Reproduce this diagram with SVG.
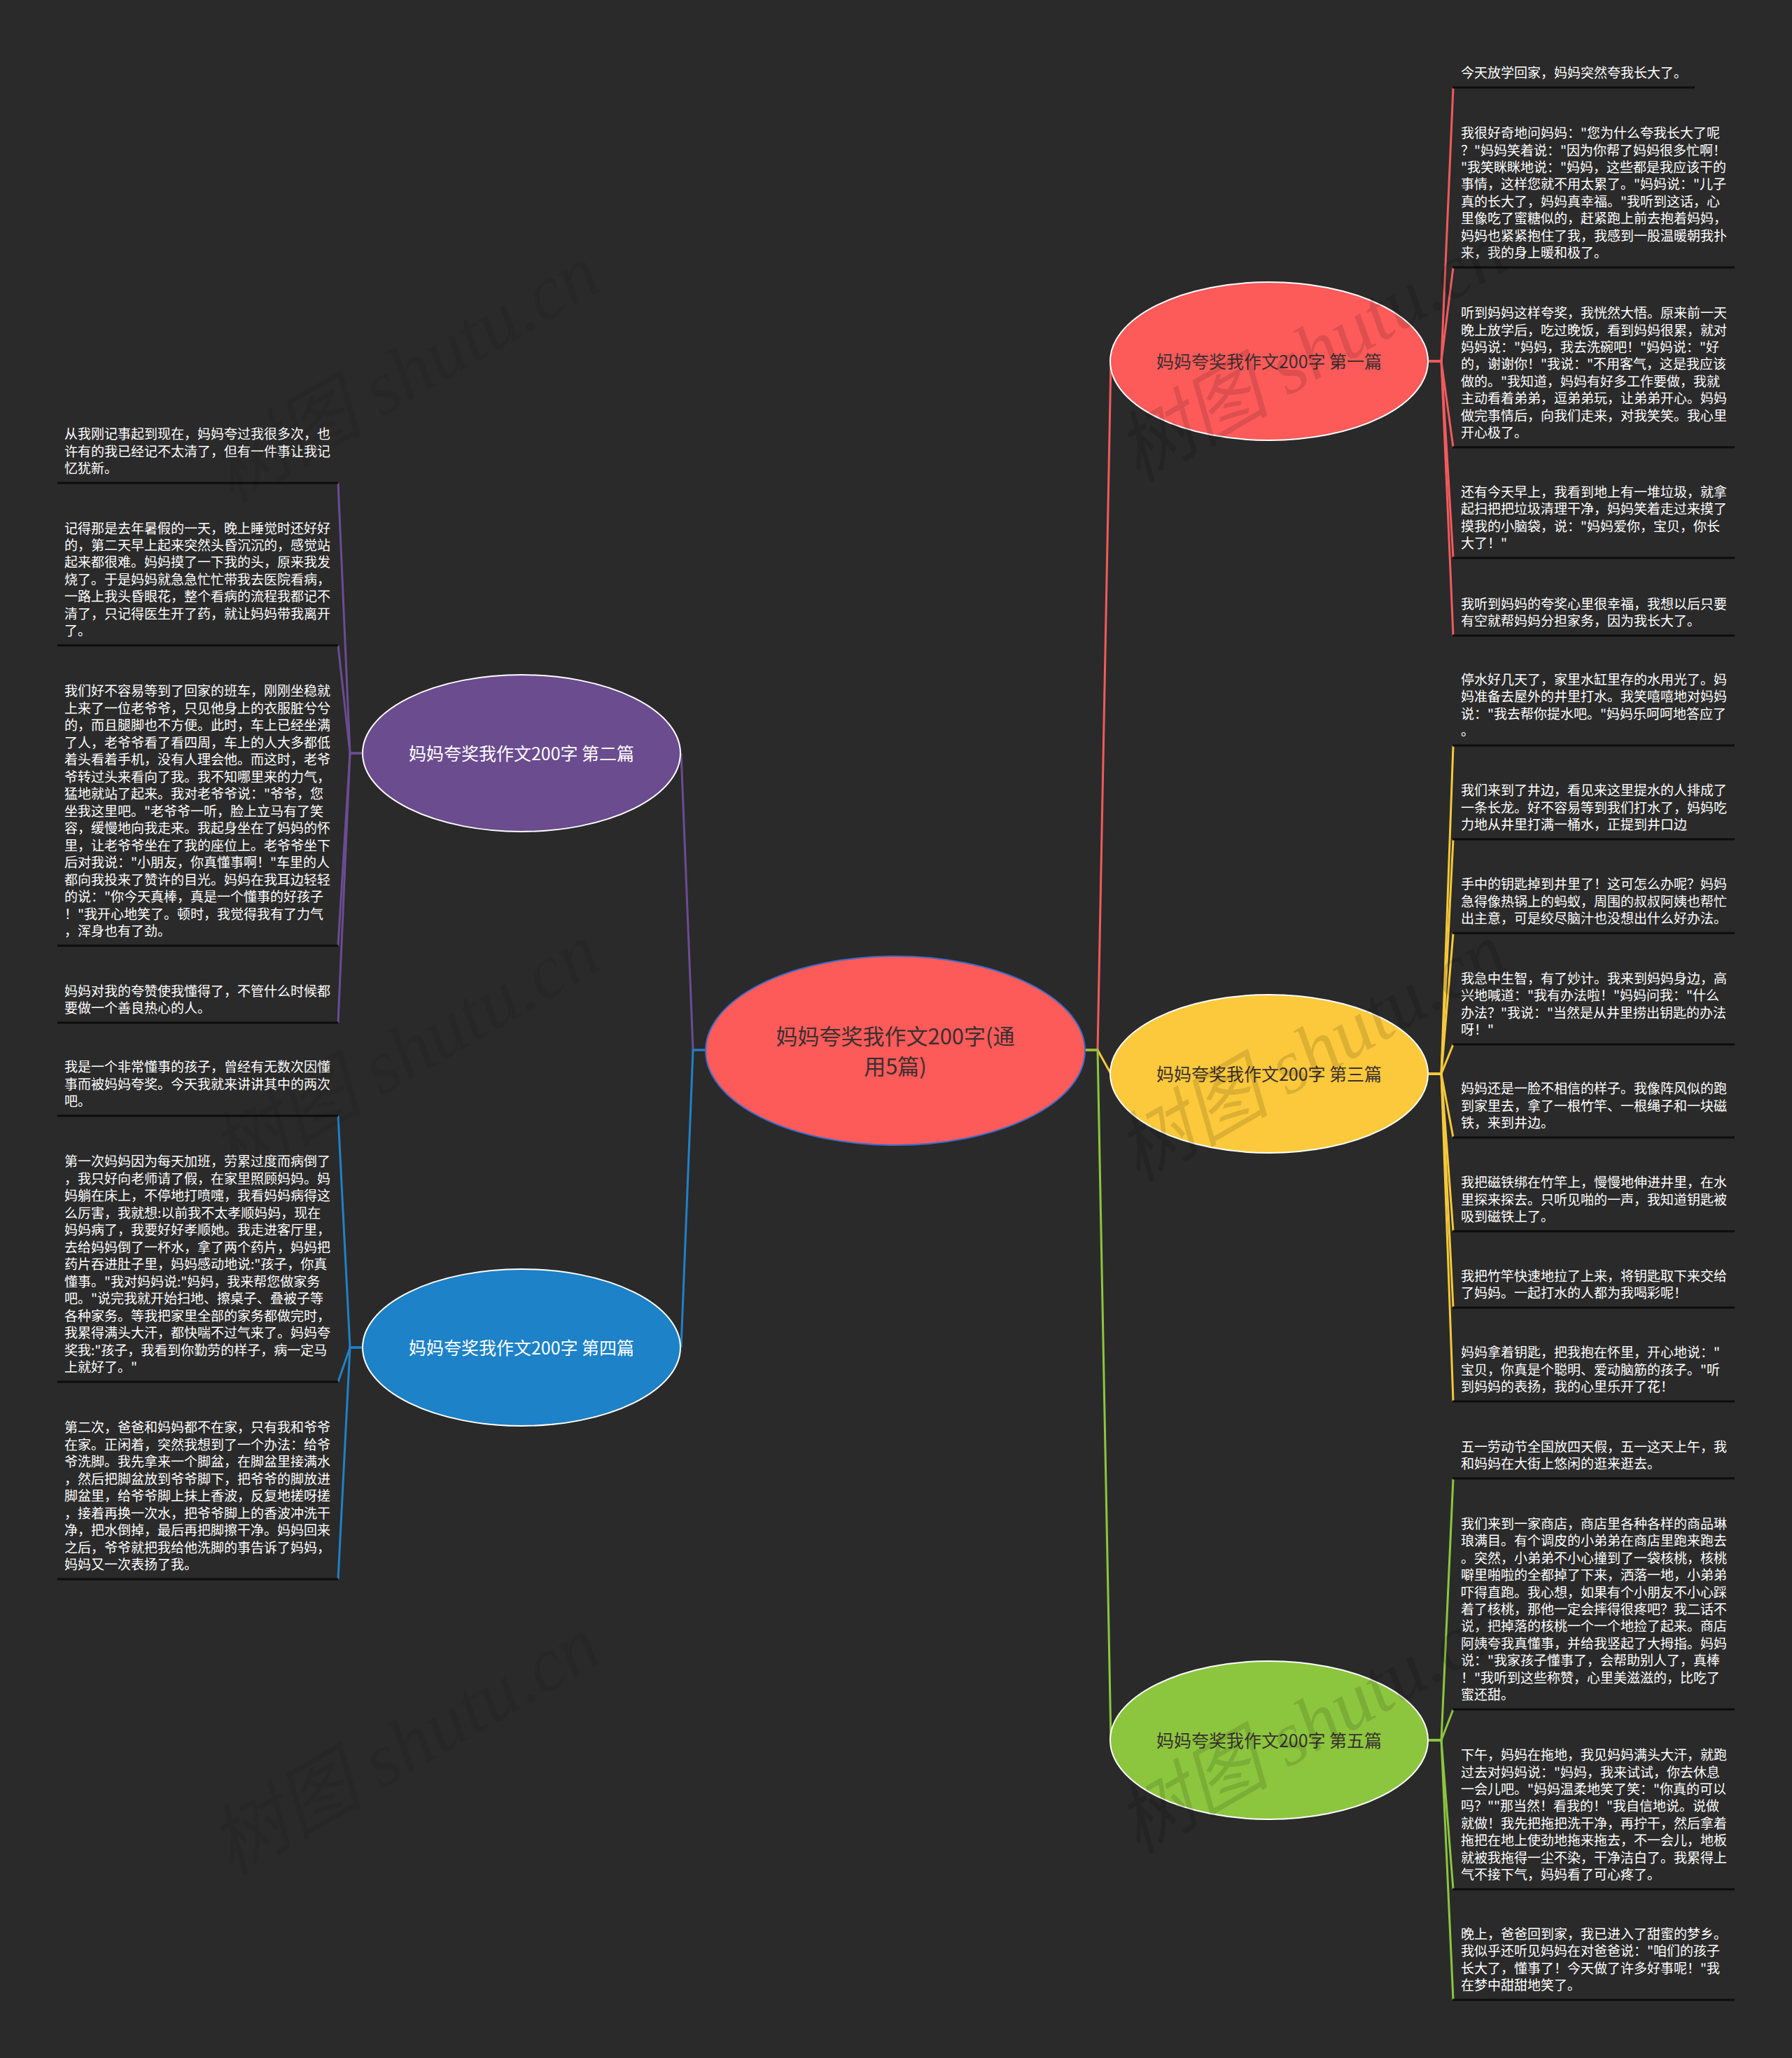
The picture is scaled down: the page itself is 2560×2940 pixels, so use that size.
<svg xmlns="http://www.w3.org/2000/svg" width="2560" height="2940" viewBox="0 0 2560 2940">
<defs>
<style>
.lt{font-family:"Noto Sans CJK SC","Noto Sans",sans-serif;font-size:19px;fill:#ffffff}
.ul{stroke:#0d0d0d;stroke-width:3}
.nt{font-family:"Noto Sans CJK SC","Noto Sans",sans-serif;font-size:25px;text-anchor:middle}
.ct{font-family:"Noto Sans CJK SC","Noto Sans",sans-serif;font-size:31px;text-anchor:middle;fill:#3a3030}
.dk{fill:#3a3030}
.wh{fill:#ffffff}
.c{fill:none;stroke-width:3}
.wm{font-family:"Liberation Serif","Noto Sans CJK SC",serif;font-style:italic;font-size:110px;fill:#000000;fill-opacity:0.12}
.wm2{fill-opacity:0.05}
</style>
</defs>
<rect x="0" y="0" width="2560" height="2940" fill="#2a2a2a"/>

<g id="connectors">
<path class="c" stroke="#f35a5c" d="M1549,1500 H1568 L1587,516"/>
<path class="c" stroke="#f6c83a" d="M1549,1500 H1568 L1587,1534"/>
<path class="c" stroke="#8cc63f" d="M1549,1500 H1568 L1587,2486"/>
<path class="c" stroke="#6b4c93" d="M1009,1500 H990 L973,1076"/>
<path class="c" stroke="#2081c8" d="M1009,1500 H990 L973,1925"/>

<g stroke="#f35a5c" class="c">
<path class="c" d="M2041,516 H2059 L2076,125"/>
<path class="c" d="M2041,516 H2059 L2076,382"/>
<path class="c" d="M2041,516 H2059 L2076,639"/>
<path class="c" d="M2041,516 H2059 L2076,797"/>
<path class="c" d="M2041,516 H2059 L2076,908"/>
</g>
<g stroke="#f6c83a" class="c">
<path class="c" d="M2041,1534 H2059 L2076,1065"/>
<path class="c" d="M2041,1534 H2059 L2076,1199"/>
<path class="c" d="M2041,1534 H2059 L2076,1333"/>
<path class="c" d="M2041,1534 H2059 L2076,1492"/>
<path class="c" d="M2041,1534 H2059 L2076,1625"/>
<path class="c" d="M2041,1534 H2059 L2076,1759"/>
<path class="c" d="M2041,1534 H2059 L2076,1868"/>
<path class="c" d="M2041,1534 H2059 L2076,2002"/>
</g>
<g stroke="#8cc63f" class="c">
<path class="c" d="M2041,2486 H2059 L2076,2112"/>
<path class="c" d="M2041,2486 H2059 L2076,2442"/>
<path class="c" d="M2041,2486 H2059 L2076,2699"/>
<path class="c" d="M2041,2486 H2059 L2076,2857"/>
</g>
<g stroke="#6b4c93" class="c">
<path class="c" d="M518,1076 H500 L483,690"/>
<path class="c" d="M518,1076 H500 L483,922"/>
<path class="c" d="M518,1076 H500 L483,1351"/>
<path class="c" d="M518,1076 H500 L483,1461"/>
</g>
<g stroke="#2081c8" class="c">
<path class="c" d="M518,1925 H500 L483,1594"/>
<path class="c" d="M518,1925 H500 L483,1974"/>
<path class="c" d="M518,1925 H500 L483,2256"/>
</g>
</g>

<g id="node-center">
<ellipse cx="1279" cy="1501" rx="271" ry="135" fill="#fd5a5a" stroke="#3a6cc8" stroke-width="2"/>
<text class="ct" x="1279" y="1492">妈妈夸奖我作文200字(通</text>
<text class="ct" x="1279" y="1535">用5篇)</text>
</g>
<g id="node-1">
<ellipse cx="1813" cy="516" rx="227" ry="113" fill="#fd5a5a" stroke="#ffffff" stroke-width="2"/>
<text class="nt dk" x="1813" y="526">妈妈夸奖我作文200字 第一篇</text>
</g>
<g id="node-2">
<ellipse cx="745" cy="1076" rx="227" ry="112" fill="#6b4c8f" stroke="#ffffff" stroke-width="2"/>
<text class="nt wh" x="745" y="1086">妈妈夸奖我作文200字 第二篇</text>
</g>
<g id="node-3">
<ellipse cx="1813" cy="1534" rx="227" ry="113" fill="#fbc93b" stroke="#ffffff" stroke-width="2"/>
<text class="nt dk" x="1813" y="1544">妈妈夸奖我作文200字 第三篇</text>
</g>
<g id="node-4">
<ellipse cx="745" cy="1925" rx="227" ry="112" fill="#1d82c8" stroke="#ffffff" stroke-width="2"/>
<text class="nt wh" x="745" y="1935">妈妈夸奖我作文200字 第四篇</text>
</g>
<g id="node-5">
<ellipse cx="1813" cy="2486" rx="227" ry="113" fill="#8cc63e" stroke="#ffffff" stroke-width="2"/>
<text class="nt dk" x="1813" y="2496">妈妈夸奖我作文200字 第五篇</text>
</g>

<g id="leaf-1-1">
<text class="lt" x="2087" y="111">今天放学回家，妈妈突然夸我长大了。</text>
<line class="ul" x1="2075" y1="125" x2="2421" y2="125"/>
</g>
<g id="leaf-1-2">
<text class="lt" y="197.2"><tspan x="2087">我很好奇地问妈妈："您为什么夸我长大了呢</tspan><tspan x="2087" dy="24.4">？"妈妈笑着说："因为你帮了妈妈很多忙啊！</tspan><tspan x="2087" dy="24.4">"我笑眯眯地说："妈妈，这些都是我应该干的</tspan><tspan x="2087" dy="24.4">事情，这样您就不用太累了。"妈妈说："儿子</tspan><tspan x="2087" dy="24.4">真的长大了，妈妈真幸福。"我听到这话，心</tspan><tspan x="2087" dy="24.4">里像吃了蜜糖似的，赶紧跑上前去抱着妈妈，</tspan><tspan x="2087" dy="24.4">妈妈也紧紧抱住了我，我感到一股温暖朝我扑</tspan><tspan x="2087" dy="24.4">来，我的身上暖和极了。</tspan></text>
<line class="ul" x1="2075" y1="382" x2="2478" y2="382"/>
</g>
<g id="leaf-1-3">
<text class="lt" y="454.2"><tspan x="2087">听到妈妈这样夸奖，我恍然大悟。原来前一天</tspan><tspan x="2087" dy="24.4">晚上放学后，吃过晚饭，看到妈妈很累，就对</tspan><tspan x="2087" dy="24.4">妈妈说："妈妈，我去洗碗吧！"妈妈说："好</tspan><tspan x="2087" dy="24.4">的，谢谢你！"我说："不用客气，这是我应该</tspan><tspan x="2087" dy="24.4">做的。"我知道，妈妈有好多工作要做，我就</tspan><tspan x="2087" dy="24.4">主动看着弟弟，逗弟弟玩，让弟弟开心。妈妈</tspan><tspan x="2087" dy="24.4">做完事情后，向我们走来，对我笑笑。我心里</tspan><tspan x="2087" dy="24.4">开心极了。</tspan></text>
<line class="ul" x1="2075" y1="639" x2="2478" y2="639"/>
</g>
<g id="leaf-1-4">
<text class="lt" y="709.8"><tspan x="2087">还有今天早上，我看到地上有一堆垃圾，就拿</tspan><tspan x="2087" dy="24.4">起扫把把垃圾清理干净，妈妈笑着走过来摸了</tspan><tspan x="2087" dy="24.4">摸我的小脑袋，说："妈妈爱你，宝贝，你长</tspan><tspan x="2087" dy="24.4">大了！"</tspan></text>
<line class="ul" x1="2075" y1="797" x2="2478" y2="797"/>
</g>
<g id="leaf-1-5">
<text class="lt" y="869.6"><tspan x="2087">我听到妈妈的夸奖心里很幸福，我想以后只要</tspan><tspan x="2087" dy="24.4">有空就帮妈妈分担家务，因为我长大了。</tspan></text>
<line class="ul" x1="2075" y1="908" x2="2478" y2="908"/>
</g>

<g id="leaf-3-1">
<text class="lt" y="977.8"><tspan x="2087">停水好几天了，家里水缸里存的水用光了。妈</tspan><tspan x="2087" dy="24.4">妈准备去屋外的井里打水。我笑嘻嘻地对妈妈</tspan><tspan x="2087" dy="24.4">说："我去帮你提水吧。"妈妈乐呵呵地答应了</tspan><tspan x="2087" dy="24.4">。</tspan></text>
<line class="ul" x1="2075" y1="1065" x2="2478" y2="1065"/>
</g>
<g id="leaf-3-2">
<text class="lt" y="1136.2"><tspan x="2087">我们来到了井边，看见来这里提水的人排成了</tspan><tspan x="2087" dy="24.4">一条长龙。好不容易等到我们打水了，妈妈吃</tspan><tspan x="2087" dy="24.4">力地从井里打满一桶水，正提到井口边</tspan></text>
<line class="ul" x1="2075" y1="1199" x2="2478" y2="1199"/>
</g>
<g id="leaf-3-3">
<text class="lt" y="1270.2"><tspan x="2087">手中的钥匙掉到井里了！这可怎么办呢？妈妈</tspan><tspan x="2087" dy="24.4">急得像热锅上的蚂蚁，周围的叔叔阿姨也帮忙</tspan><tspan x="2087" dy="24.4">出主意，可是绞尽脑汁也没想出什么好办法。</tspan></text>
<line class="ul" x1="2075" y1="1333" x2="2478" y2="1333"/>
</g>
<g id="leaf-3-4">
<text class="lt" y="1404.8"><tspan x="2087">我急中生智，有了妙计。我来到妈妈身边，高</tspan><tspan x="2087" dy="24.4">兴地喊道："我有办法啦！"妈妈问我："什么</tspan><tspan x="2087" dy="24.4">办法？"我说："当然是从井里捞出钥匙的办法</tspan><tspan x="2087" dy="24.4">呀！"</tspan></text>
<line class="ul" x1="2075" y1="1492" x2="2478" y2="1492"/>
</g>
<g id="leaf-3-5">
<text class="lt" y="1562.2"><tspan x="2087">妈妈还是一脸不相信的样子。我像阵风似的跑</tspan><tspan x="2087" dy="24.4">到家里去，拿了一根竹竿、一根绳子和一块磁</tspan><tspan x="2087" dy="24.4">铁，来到井边。</tspan></text>
<line class="ul" x1="2075" y1="1625" x2="2478" y2="1625"/>
</g>
<g id="leaf-3-6">
<text class="lt" y="1696.2"><tspan x="2087">我把磁铁绑在竹竿上，慢慢地伸进井里，在水</tspan><tspan x="2087" dy="24.4">里探来探去。只听见啪的一声，我知道钥匙被</tspan><tspan x="2087" dy="24.4">吸到磁铁上了。</tspan></text>
<line class="ul" x1="2075" y1="1759" x2="2478" y2="1759"/>
</g>
<g id="leaf-3-7">
<text class="lt" y="1829.6"><tspan x="2087">我把竹竿快速地拉了上来，将钥匙取下来交给</tspan><tspan x="2087" dy="24.4">了妈妈。一起打水的人都为我喝彩呢！</tspan></text>
<line class="ul" x1="2075" y1="1868" x2="2478" y2="1868"/>
</g>
<g id="leaf-3-8">
<text class="lt" y="1939.2"><tspan x="2087">妈妈拿着钥匙，把我抱在怀里，开心地说："</tspan><tspan x="2087" dy="24.4">宝贝，你真是个聪明、爱动脑筋的孩子。"听</tspan><tspan x="2087" dy="24.4">到妈妈的表扬，我的心里乐开了花！</tspan></text>
<line class="ul" x1="2075" y1="2002" x2="2478" y2="2002"/>
</g>

<g id="leaf-5-1">
<text class="lt" y="2073.6"><tspan x="2087">五一劳动节全国放四天假，五一这天上午，我</tspan><tspan x="2087" dy="24.4">和妈妈在大街上悠闲的逛来逛去。</tspan></text>
<line class="ul" x1="2075" y1="2112" x2="2478" y2="2112"/>
</g>
<g id="leaf-5-2">
<text class="lt" y="2184"><tspan x="2087">我们来到一家商店，商店里各种各样的商品琳</tspan><tspan x="2087" dy="24.4">琅满目。有个调皮的小弟弟在商店里跑来跑去</tspan><tspan x="2087" dy="24.4">。突然，小弟弟不小心撞到了一袋核桃，核桃</tspan><tspan x="2087" dy="24.4">噼里啪啦的全都掉了下来，洒落一地，小弟弟</tspan><tspan x="2087" dy="24.4">吓得直跑。我心想，如果有个小朋友不小心踩</tspan><tspan x="2087" dy="24.4">着了核桃，那他一定会摔得很疼吧？我二话不</tspan><tspan x="2087" dy="24.4">说，把掉落的核桃一个一个地捡了起来。商店</tspan><tspan x="2087" dy="24.4">阿姨夸我真懂事，并给我竖起了大拇指。妈妈</tspan><tspan x="2087" dy="24.4">说："我家孩子懂事了，会帮助别人了，真棒</tspan><tspan x="2087" dy="24.4">！"我听到这些称赞，心里美滋滋的，比吃了</tspan><tspan x="2087" dy="24.4">蜜还甜。</tspan></text>
<line class="ul" x1="2075" y1="2442" x2="2478" y2="2442"/>
</g>
<g id="leaf-5-3">
<text class="lt" y="2514.2"><tspan x="2087">下午，妈妈在拖地，我见妈妈满头大汗，就跑</tspan><tspan x="2087" dy="24.4">过去对妈妈说："妈妈，我来试试，你去休息</tspan><tspan x="2087" dy="24.4">一会儿吧。"妈妈温柔地笑了笑："你真的可以</tspan><tspan x="2087" dy="24.4">吗？""那当然！看我的！"我自信地说。说做</tspan><tspan x="2087" dy="24.4">就做！我先把拖把洗干净，再拧干，然后拿着</tspan><tspan x="2087" dy="24.4">拖把在地上使劲地拖来拖去，不一会儿，地板</tspan><tspan x="2087" dy="24.4">就被我拖得一尘不染，干净洁白了。我累得上</tspan><tspan x="2087" dy="24.4">气不接下气，妈妈看了可心疼了。</tspan></text>
<line class="ul" x1="2075" y1="2699" x2="2478" y2="2699"/>
</g>
<g id="leaf-5-4">
<text class="lt" y="2769.8"><tspan x="2087">晚上，爸爸回到家，我已进入了甜蜜的梦乡。</tspan><tspan x="2087" dy="24.4">我似乎还听见妈妈在对爸爸说："咱们的孩子</tspan><tspan x="2087" dy="24.4">长大了，懂事了！今天做了许多好事呢！"我</tspan><tspan x="2087" dy="24.4">在梦中甜甜地笑了。</tspan></text>
<line class="ul" x1="2075" y1="2857" x2="2478" y2="2857"/>
</g>

<g id="leaf-2-1">
<text class="lt" y="627.2"><tspan x="92">从我刚记事起到现在，妈妈夸过我很多次，也</tspan><tspan x="92" dy="24.4">许有的我已经记不太清了，但有一件事让我记</tspan><tspan x="92" dy="24.4">忆犹新。</tspan></text>
<line class="ul" x1="82" y1="690" x2="483" y2="690"/>
</g>
<g id="leaf-2-2">
<text class="lt" y="761.6"><tspan x="92">记得那是去年暑假的一天，晚上睡觉时还好好</tspan><tspan x="92" dy="24.4">的，第二天早上起来突然头昏沉沉的，感觉站</tspan><tspan x="92" dy="24.4">起来都很难。妈妈摸了一下我的头，原来我发</tspan><tspan x="92" dy="24.4">烧了。于是妈妈就急急忙忙带我去医院看病，</tspan><tspan x="92" dy="24.4">一路上我头昏眼花，整个看病的流程我都记不</tspan><tspan x="92" dy="24.4">清了，只记得医生开了药，就让妈妈带我离开</tspan><tspan x="92" dy="24.4">了。</tspan></text>
<line class="ul" x1="82" y1="922" x2="483" y2="922"/>
</g>
<g id="leaf-2-3">
<text class="lt" y="994"><tspan x="92">我们好不容易等到了回家的班车，刚刚坐稳就</tspan><tspan x="92" dy="24.5">上来了一位老爷爷，只见他身上的衣服脏兮兮</tspan><tspan x="92" dy="24.5">的，而且腿脚也不方便。此时，车上已经坐满</tspan><tspan x="92" dy="24.5">了人，老爷爷看了看四周，车上的人大多都低</tspan><tspan x="92" dy="24.5">着头看着手机，没有人理会他。而这时，老爷</tspan><tspan x="92" dy="24.5">爷转过头来看向了我。我不知哪里来的力气，</tspan><tspan x="92" dy="24.5">猛地就站了起来。我对老爷爷说："爷爷，您</tspan><tspan x="92" dy="24.5">坐我这里吧。"老爷爷一听，脸上立马有了笑</tspan><tspan x="92" dy="24.5">容，缓慢地向我走来。我起身坐在了妈妈的怀</tspan><tspan x="92" dy="24.5">里，让老爷爷坐在了我的座位上。老爷爷坐下</tspan><tspan x="92" dy="24.5">后对我说："小朋友，你真懂事啊！"车里的人</tspan><tspan x="92" dy="24.5">都向我投来了赞许的目光。妈妈在我耳边轻轻</tspan><tspan x="92" dy="24.5">的说："你今天真棒，真是一个懂事的好孩子</tspan><tspan x="92" dy="24.5">！"我开心地笑了。顿时，我觉得我有了力气</tspan><tspan x="92" dy="24.5">，浑身也有了劲。</tspan></text>
<line class="ul" x1="82" y1="1351" x2="483" y2="1351"/>
</g>
<g id="leaf-2-4">
<text class="lt" y="1422.6"><tspan x="92">妈妈对我的夸赞使我懂得了，不管什么时候都</tspan><tspan x="92" dy="24.4">要做一个善良热心的人。</tspan></text>
<line class="ul" x1="82" y1="1461" x2="483" y2="1461"/>
</g>

<g id="leaf-4-1">
<text class="lt" y="1531.2"><tspan x="92">我是一个非常懂事的孩子，曾经有无数次因懂</tspan><tspan x="92" dy="24.4">事而被妈妈夸奖。今天我就来讲讲其中的两次</tspan><tspan x="92" dy="24.4">吧。</tspan></text>
<line class="ul" x1="82" y1="1594" x2="483" y2="1594"/>
</g>
<g id="leaf-4-2">
<text class="lt" y="1666"><tspan x="92">第一次妈妈因为每天加班，劳累过度而病倒了</tspan><tspan x="92" dy="24.5">，我只好向老师请了假，在家里照顾妈妈。妈</tspan><tspan x="92" dy="24.5">妈躺在床上，不停地打喷嚏，我看妈妈病得这</tspan><tspan x="92" dy="24.5">么厉害，我就想:以前我不太孝顺妈妈，现在</tspan><tspan x="92" dy="24.5">妈妈病了，我要好好孝顺她。我走进客厅里，</tspan><tspan x="92" dy="24.5">去给妈妈倒了一杯水，拿了两个药片，妈妈把</tspan><tspan x="92" dy="24.5">药片吞进肚子里，妈妈感动地说:"孩子，你真</tspan><tspan x="92" dy="24.5">懂事。"我对妈妈说:"妈妈，我来帮您做家务</tspan><tspan x="92" dy="24.5">吧。"说完我就开始扫地、擦桌子、叠被子等</tspan><tspan x="92" dy="24.5">各种家务。等我把家里全部的家务都做完时，</tspan><tspan x="92" dy="24.5">我累得满头大汗，都快喘不过气来了。妈妈夸</tspan><tspan x="92" dy="24.5">奖我:"孩子，我看到你勤劳的样子，病一定马</tspan><tspan x="92" dy="24.5">上就好了。"</tspan></text>
<line class="ul" x1="82" y1="1974" x2="483" y2="1974"/>
</g>
<g id="leaf-4-3">
<text class="lt" y="2046.4"><tspan x="92">第二次，爸爸和妈妈都不在家，只有我和爷爷</tspan><tspan x="92" dy="24.45">在家。正闲着，突然我想到了一个办法：给爷</tspan><tspan x="92" dy="24.45">爷洗脚。我先拿来一个脚盆，在脚盆里接满水</tspan><tspan x="92" dy="24.45">，然后把脚盆放到爷爷脚下，把爷爷的脚放进</tspan><tspan x="92" dy="24.45">脚盆里，给爷爷脚上抹上香波，反复地搓呀搓</tspan><tspan x="92" dy="24.45">，接着再换一次水，把爷爷脚上的香波冲洗干</tspan><tspan x="92" dy="24.45">净，把水倒掉，最后再把脚擦干净。妈妈回来</tspan><tspan x="92" dy="24.45">之后，爷爷就把我给他洗脚的事告诉了妈妈，</tspan><tspan x="92" dy="24.45">妈妈又一次表扬了我。</tspan></text>
<line class="ul" x1="82" y1="2256" x2="483" y2="2256"/>
</g>

<g id="watermarks">
<text class="wm" transform="translate(1625,690) rotate(-30)">树图 shutu.cn</text>
<text class="wm" transform="translate(1625,1690) rotate(-30)">树图 shutu.cn</text>
<text class="wm" transform="translate(1625,2650) rotate(-30)">树图 shutu.cn</text>
<text class="wm wm2" transform="translate(330,720) rotate(-30)">树图 shutu.cn</text>
<text class="wm wm2" transform="translate(330,1690) rotate(-30)">树图 shutu.cn</text>
<text class="wm wm2" transform="translate(330,2680) rotate(-30)">树图 shutu.cn</text>
</g>
</svg>
